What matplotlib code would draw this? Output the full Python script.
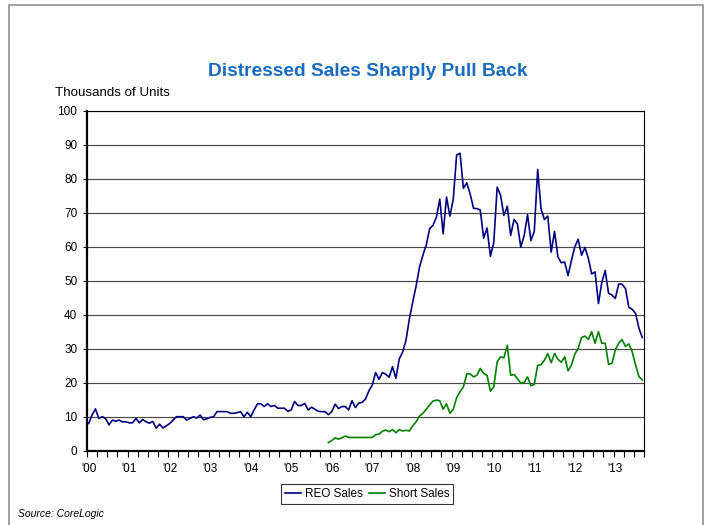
import numpy as np
import matplotlib
matplotlib.use("Agg")
import matplotlib.pyplot as plt
from matplotlib.patches import Rectangle

plt.rcParams['font.family'] = ['Liberation Sans', 'DejaVu Sans']

# monthly series, Jan 2000 onward (thousands of units)
reo_sales = [
    8.0, 10.5, 12.3, 9.5, 10.0, 9.5, 7.6, 9.0, 8.7, 9.0, 8.5, 8.5,          # 2000
    8.2, 8.2, 9.5, 8.2, 9.2, 8.5, 8.1, 8.6, 6.6, 7.8, 6.7, 7.3,             # 2001
    8.0, 9.0, 10.0, 10.0, 10.0, 9.0, 9.5, 10.0, 9.6, 10.5, 9.1, 9.4,        # 2002
    9.8, 10.0, 11.5, 11.5, 11.5, 11.5, 11.0, 11.0, 11.2, 11.5, 10.0, 11.3,  # 2003
    10.0, 12.0, 13.8, 13.8, 13.0, 13.8, 13.0, 13.3, 12.5, 12.5, 12.5, 11.6, # 2004
    12.0, 14.5, 13.3, 13.3, 13.9, 12.0, 12.8, 12.2, 11.6, 11.5, 11.5, 10.6, # 2005
    11.5, 13.7, 12.4, 13.0, 13.0, 12.0, 14.7, 12.7, 14.0, 14.2, 15.2, 17.6, # 2006
    19.3, 23.0, 21.0, 23.0, 22.5, 21.6, 24.7, 21.3, 27.0, 29.0, 32.5, 38.8, # 2007
    43.8, 48.5, 54.0, 57.5, 60.5, 65.3, 66.3, 68.7, 74.0, 63.8, 74.6, 69.0, # 2008
    74.0, 87.0, 87.5, 77.2, 78.8, 75.5, 71.3, 71.2, 70.8, 62.5, 65.5, 57.2, # 2009
    61.2, 77.5, 75.2, 69.2, 71.9, 63.3, 68.0, 66.7, 59.9, 63.3, 69.4, 61.8, # 2010
    64.5, 82.7, 71.1, 68.0, 69.0, 58.4, 64.5, 57.0, 55.3, 55.5, 51.5, 56.0, # 2011
    60.0, 62.2, 57.5, 59.8, 56.6, 52.0, 52.6, 43.3, 49.5, 53.0, 46.3, 45.8, # 2012
    44.8, 49.0, 49.0, 47.7, 42.2, 41.6, 40.4, 36.0, 33.3,                   # 2013
]

# short sales series starts Dec 2005
short_start = 71
short_sales = [
    2.4,
    3.0, 3.8, 3.4, 3.8, 4.3, 3.9, 3.9, 3.9, 3.9, 3.9, 3.9, 3.9,             # 2006
    3.9, 4.7, 4.9, 5.7, 6.1, 5.6, 6.2, 5.3, 6.2, 5.8, 6.0, 5.8,             # 2007
    7.3, 8.5, 10.2, 11.0, 12.2, 13.5, 14.6, 14.9, 14.7, 12.2, 13.8, 11.0,   # 2008
    12.2, 15.6, 17.3, 18.8, 22.6, 22.6, 21.7, 22.2, 24.2, 22.7, 22.2, 17.5, # 2009
    18.8, 26.1, 27.6, 27.3, 31.0, 22.2, 22.4, 21.2, 19.8, 20.1, 21.7, 19.1, # 2010
    19.5, 25.1, 25.3, 26.6, 28.6, 25.9, 28.6, 26.9, 26.0, 27.6, 23.5, 25.2, # 2011
    28.4, 30.1, 33.3, 33.7, 32.7, 35.0, 31.6, 35.0, 31.6, 31.6, 25.4, 25.7, # 2012
    29.6, 31.6, 32.7, 30.7, 31.4, 29.1, 25.2, 21.8, 20.8,                   # 2013
]

year_labels = ["'00", "'01", "'02", "'03", "'04", "'05", "'06",
               "'07", "'08", "'09", "'10", "'11", "'12", "'13"]

n = len(reo_sales)
x_reo = np.arange(n) + 0.5
x_short = np.arange(short_start, short_start + len(short_sales)) + 0.5

fig = plt.figure(figsize=(7.12, 5.25), dpi=100)
ax = fig.add_axes([0.1222, 0.1415, 0.7823, 0.6476])

# outer frame around the whole chart
fig.patches.append(Rectangle((9 / 712, -0.05), 694 / 712, 1.04, transform=fig.transFigure,
                             fill=False, edgecolor='#909090', linewidth=1.2))

ax.set_axisbelow(True)
ax.yaxis.grid(True, color='#4a4a4a', linewidth=0.85)
ax.plot(x_reo, reo_sales, color='#000080', linewidth=1.2, label='REO Sales')
ax.plot(x_short, short_sales, color='#008000', linewidth=1.2, label='Short Sales')

ax.set_xlim(0, n)
ax.set_ylim(0, 100)
ax.set_yticks(np.arange(0, 101, 10))
ax.set_xticks(np.arange(len(year_labels)) * 12 + 0.5)
ax.set_xticklabels(year_labels)
ax.set_xticks(np.arange(0, n + 1, 3), minor=True)
ax.tick_params(axis='x', which='major', length=0, pad=8.5, labelsize=8.5)
ax.tick_params(axis='x', which='minor', length=4, width=0.8, direction='out')
ax.tick_params(axis='y', length=3, width=0.8, pad=4, labelsize=8.5)

for side in ['top', 'right']:
    ax.spines[side].set_linewidth(0.8)
for side in ['left', 'bottom']:
    ax.spines[side].set_linewidth(1.6)

fig.text(368 / 712, 1 - 72 / 525, 'Distressed Sales Sharply Pull Back', ha='center', va='center',
         fontsize=13.8, fontweight='bold', color='#1a6bbf')
fig.text(55 / 712, 1 - 93 / 525, 'Thousands of Units', ha='left', va='center', fontsize=9.6)
fig.text(18 / 712, 1 - 514 / 525, 'Source: CoreLogic', ha='left', va='center',
         fontsize=7.5, style='italic')

leg = fig.legend(loc='center', bbox_to_anchor=(367 / 712, 1 - 494 / 525), ncol=2, fontsize=8.5,
                 frameon=True, fancybox=False, edgecolor='black', handlelength=1.4,
                 handletextpad=0.3, columnspacing=0.5, borderpad=0.35)
leg.get_frame().set_linewidth(0.8)

fig.savefig('out.png', dpi=100)
